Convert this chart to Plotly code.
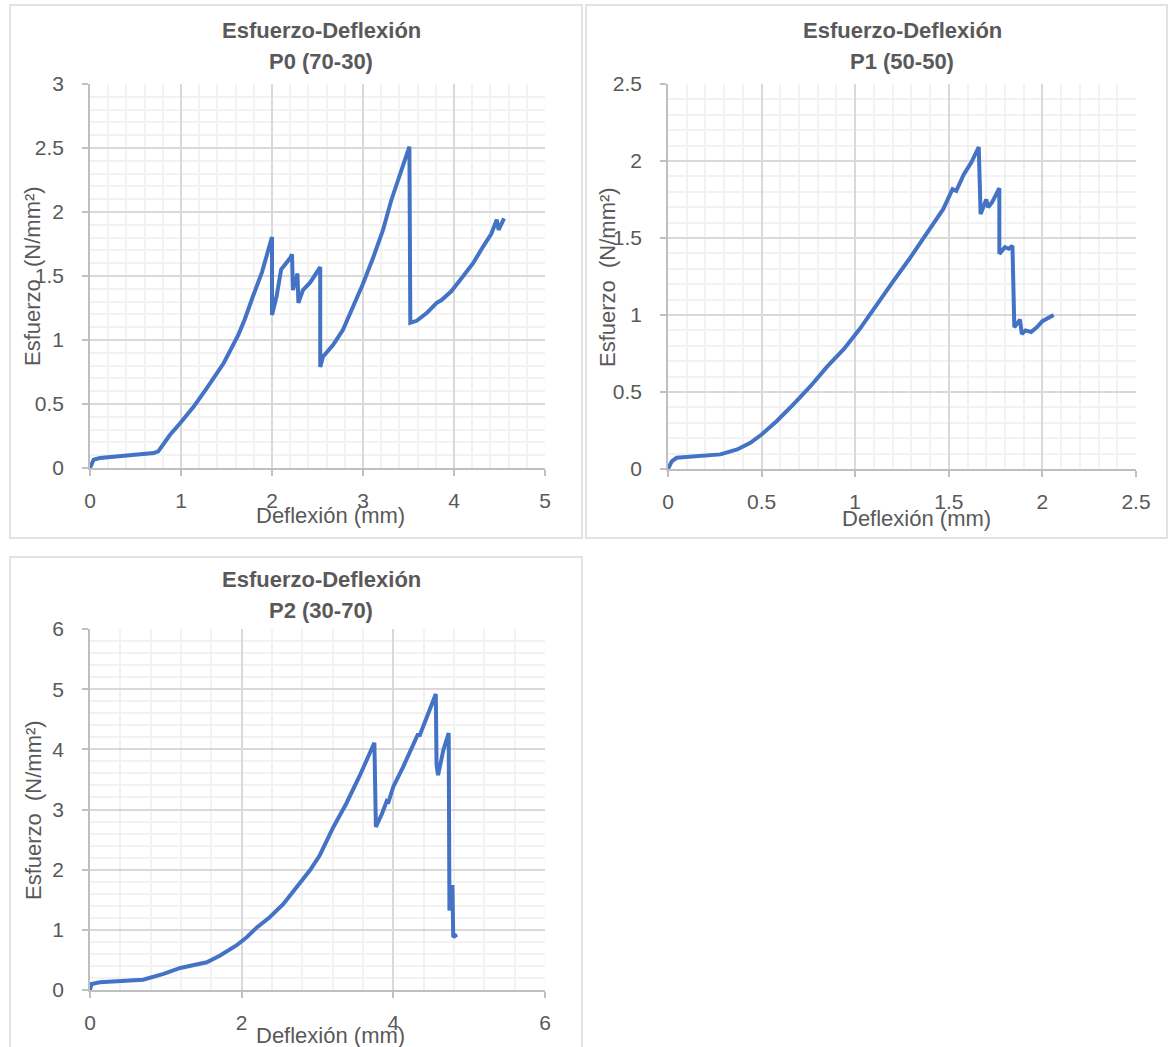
import plotly.graph_objects as go

W, H = 1168, 1047

# ---------------- data ----------------
p0_x = [0, 0.04, 0.11, 0.70, 0.75, 0.88, 0.99, 1.14, 1.28, 1.47, 1.63, 1.70, 1.79, 1.89, 2.00,
        2.00, 2.05, 2.10, 2.20, 2.22, 2.23, 2.28, 2.29, 2.34, 2.42, 2.53,
        2.53, 2.56, 2.67, 2.78, 2.89, 3.00, 3.11, 3.22, 3.31, 3.41, 3.51,
        3.52, 3.59, 3.70, 3.81, 3.86, 3.97, 4.07, 4.21, 4.32, 4.41, 4.47, 4.49, 4.55]
p0_y = [0, 0.065, 0.078, 0.117, 0.13, 0.26, 0.35, 0.48, 0.62, 0.82, 1.04, 1.16, 1.34, 1.53, 1.805,
        1.195, 1.34, 1.55, 1.64, 1.67, 1.39, 1.52, 1.29, 1.39, 1.45, 1.57,
        0.79, 0.87, 0.96, 1.08, 1.26, 1.44, 1.64, 1.86, 2.09, 2.30, 2.51,
        1.135, 1.15, 1.21, 1.29, 1.31, 1.38, 1.47, 1.60, 1.73, 1.83, 1.94, 1.86, 1.95]

p1_x = [0, 0.02, 0.046, 0.135, 0.28, 0.37, 0.44, 0.50, 0.58, 0.67, 0.76, 0.85, 0.94, 1.025,
        1.11, 1.20, 1.29, 1.38, 1.47, 1.52, 1.54, 1.58, 1.62, 1.66,
        1.67, 1.70, 1.71, 1.73, 1.77, 1.77, 1.80, 1.82, 1.84,
        1.85, 1.88, 1.89, 1.91, 1.94, 1.97, 2.00, 2.06]
p1_y = [0, 0.05, 0.073, 0.08, 0.095, 0.127, 0.17, 0.224, 0.31, 0.42, 0.536, 0.665, 0.78, 0.91,
        1.063, 1.214, 1.365, 1.526, 1.687, 1.817, 1.806, 1.913, 1.99, 2.09,
        1.655, 1.75, 1.70, 1.73, 1.823, 1.397, 1.44, 1.43, 1.45,
        0.92, 0.97, 0.876, 0.90, 0.89, 0.92, 0.96, 1.00]

p2_x = [0, 0.02, 0.13, 0.40, 0.70, 0.97, 1.19, 1.54, 1.71, 1.93, 2.07, 2.20, 2.37, 2.55, 2.73,
        2.90, 3.03, 3.21, 3.38, 3.56, 3.75,
        3.77, 3.85, 3.91, 3.93, 4.00, 4.13, 4.26, 4.32, 4.35, 4.44, 4.56,
        4.57, 4.59, 4.66, 4.73, 4.74, 4.76, 4.78, 4.79, 4.84]
p2_y = [0, 0.10, 0.128, 0.144, 0.172, 0.267, 0.367, 0.46, 0.57, 0.74, 0.88, 1.04, 1.21, 1.43, 1.71,
        1.99, 2.24, 2.71, 3.10, 3.57, 4.11,
        2.71, 2.93, 3.13, 3.10, 3.38, 3.71, 4.10, 4.24, 4.24, 4.54, 4.92,
        3.74, 3.57, 3.99, 4.27, 1.32, 1.71, 1.71, 0.88, 0.92]

titles = ["P0 (70-30)", "P1 (50-50)", "P2 (30-70)"]
main_title = "Esfuerzo-Deflexión"
x_title = "Deflexión (mm)"
y_title = "Esfuerzo\u00a0 (N/mm²)"

# ---------------- style ----------------
FONT = "Liberation Sans, Arial, sans-serif"
TXT = "#595959"
LINE = "#4472C4"
MAJ = "#D9D9D9"
MIN = "#F2F2F2"
AX = "#BFBFBF"

def px(x):
    return x / W

def py(y):
    return 1 - y / H

fig = go.Figure()

series = [(p0_x, p0_y), (p1_x, p1_y), (p2_x, p2_y)]
for i, (xs, ys) in enumerate(series):
    sfx = "" if i == 0 else str(i + 1)
    fig.add_trace(go.Scatter(x=xs, y=ys, mode="lines", xaxis="x" + sfx, yaxis="y" + sfx,
                             line=dict(color=LINE, width=4), showlegend=False,
                             hoverinfo="skip"))

# plot area pixel boxes: (left, right, top, bottom)
boxes = [(90, 545, 84, 468), (668, 1136, 84, 469), (90, 545, 629, 990)]
xcfg = [(5, 1, 0.2), (2.5, 0.5, 0.1), (6, 2, 0.4)]
ycfg = [(3, 0.5, 0.1), (2.5, 0.5, 0.1), (6, 1, 0.2)]

def axis(rng, dt, mdt, domain, anchor):
    return dict(
        range=[0, rng], dtick=dt, tick0=0, domain=domain, anchor=anchor,
        automargin=False,
        showgrid=True, gridcolor=MAJ, gridwidth=1.5,
        minor=dict(dtick=mdt, tick0=0, showgrid=True, gridcolor=MIN, gridwidth=1.5, ticks=""),
        showline=True, linecolor=AX, linewidth=1.5,
        ticks="outside", ticklen=6, tickcolor=AX, tickwidth=1.5,
        tickfont=dict(family=FONT, size=21, color=TXT),
        zeroline=False, fixedrange=True,
    )

layout = dict(width=W, height=H, margin=dict(l=0, r=0, t=0, b=0, pad=0, autoexpand=False),
              paper_bgcolor="white", plot_bgcolor="white", showlegend=False)
for i, (l, r, t, b) in enumerate(boxes):
    sfx = "" if i == 0 else str(i + 1)
    xa = axis(xcfg[i][0], xcfg[i][1], xcfg[i][2], [px(l), px(r)], "y" + sfx)
    xa["ticklabelstandoff"] = 7
    ya = axis(ycfg[i][0], ycfg[i][1], ycfg[i][2], [py(b), py(t)], "x" + sfx)
    ya["ticklabelstandoff"] = 14
    layout["xaxis" + sfx] = xa
    layout["yaxis" + sfx] = ya
fig.update_layout(**layout)

# panel borders
panels = [(10, 582, 5, 538), (586, 1167, 5, 538), (10, 582, 557, 1050)]
for (l, r, t, b) in panels:
    fig.add_shape(type="rect", xref="paper", yref="paper",
                  x0=px(l), x1=px(r), y0=py(b), y1=py(t),
                  line=dict(color=MAJ, width=1.5), fillcolor="rgba(0,0,0,0)", layer="below")

# titles and axis titles
tcenters = [(321, 0), (902, 0), (321, 549)]
xt_pos = [(330, 515), (916, 518), (330, 1035)]
yt_pos = [(33, 276), (607, 277), (33, 810)]
for i in range(3):
    cx, oy = tcenters[i]
    fig.add_annotation(text="<b>" + main_title + "</b>", x=px(cx), y=py(oy + 30), xref="paper", yref="paper",
                       showarrow=False, xanchor="center", yanchor="middle",
                       font=dict(family=FONT, size=22, color=TXT))
    fig.add_annotation(text="<b>" + titles[i] + "</b>", x=px(cx), y=py(oy + 61), xref="paper", yref="paper",
                       showarrow=False, xanchor="center", yanchor="middle",
                       font=dict(family=FONT, size=22, color=TXT))
    fig.add_annotation(text=x_title, x=px(xt_pos[i][0]), y=py(xt_pos[i][1]), xref="paper", yref="paper",
                       showarrow=False, xanchor="center", yanchor="middle",
                       font=dict(family=FONT, size=22, color=TXT))
    fig.add_annotation(text=y_title, x=px(yt_pos[i][0]), y=py(yt_pos[i][1]), xref="paper", yref="paper",
                       showarrow=False, xanchor="center", yanchor="middle", textangle=-90,
                       font=dict(family=FONT, size=22, color=TXT))

fig.write_html("out.html")
